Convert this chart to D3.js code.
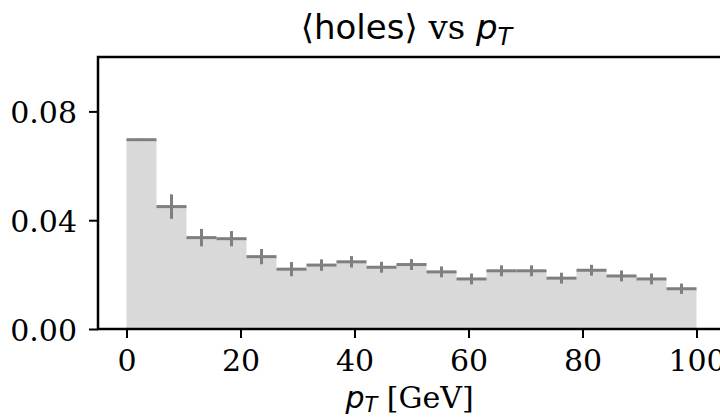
<!DOCTYPE html>
<html>
<head>
<meta charset="utf-8">
<script src="https://cdn.jsdelivr.net/npm/d3@7"></script>
<style>
  html, body { margin: 0; padding: 0; background: #fff; overflow: hidden; }
  svg { display: block; }
</style>
</head>
<body>
<div id="chart"></div>
<script>
// 19 equal bins over 0..100 GeV
const binEdges = d3.range(20).map((i) => (i * 100) / 19);
const holes = [0.0696, 0.0450, 0.0336, 0.0332, 0.0266, 0.0220, 0.0235, 0.0247, 0.0227, 0.0237,
  0.0210, 0.0184, 0.0214, 0.0214, 0.0187, 0.0216, 0.0195, 0.0184, 0.0148];
const holesErr = [0.0004, 0.0045, 0.0032, 0.0028, 0.0028, 0.0026, 0.0021, 0.0021, 0.0020, 0.0020,
  0.0020, 0.0020, 0.0020, 0.0020, 0.0020, 0.0020, 0.0020, 0.0020, 0.0019];
const xTicks = [0, 20, 40, 60, 80, 100];
const yTicks = [0.00, 0.04, 0.08];

const W = 720, H = 418;
const margin = { top: 57, right: -5, bottom: 89, left: 98 };

const svg = d3.select("#chart").append("svg")
  .attr("width", W).attr("height", H).attr("viewBox", [0, 0, W, H]);

const x = d3.scaleLinear().domain([-5, 105]).range([margin.left, W - margin.right]);
const y = d3.scaleLinear().domain([0, 0.1]).range([H - margin.bottom, margin.top]);

const bins = holes.map((v, i) => ({ x0: binEdges[i], x1: binEdges[i + 1], v, e: holesErr[i] }));

// Filled step histogram
const area = d3.area()
  .curve(d3.curveStepAfter)
  .x((d) => x(d[0]))
  .y0(y(0))
  .y1((d) => y(d[1]));
const steps = bins.map((b) => [b.x0, b.v]).concat([[100, holes[holes.length - 1]]]);
svg.append("path").attr("d", area(steps)).attr("fill", "#d9d9d9");

// Error bars
const eb = svg.append("g").attr("stroke", "#7f7f7f").attr("stroke-width", 3);
bins.forEach((b) => {
  const cx = x((b.x0 + b.x1) / 2);
  eb.append("line")
    .attr("x1", x(b.x0)).attr("x2", x(b.x1))
    .attr("y1", y(b.v)).attr("y2", y(b.v));
  eb.append("line")
    .attr("x1", cx).attr("x2", cx)
    .attr("y1", y(b.v - b.e)).attr("y2", y(b.v + b.e));
});

// Axes
const xAxis = svg.append("g")
  .attr("transform", `translate(0,${y(0)})`)
  .call(d3.axisBottom(x).tickValues(xTicks).tickFormat(d3.format("d")).tickSize(9).tickPadding(12));
const yAxis = svg.append("g")
  .attr("transform", `translate(${x(-5)},0)`)
  .call(d3.axisLeft(y).tickValues(yTicks).tickFormat(d3.format(".2f")).tickSize(9).tickPadding(12));

[xAxis, yAxis].forEach((a) => {
  a.select(".domain").remove();
  a.selectAll(".tick line").attr("stroke", "#000").attr("stroke-width", 2);
  a.selectAll("text")
    .attr("fill", "#000")
    .style("font-family", "'DejaVu Serif', serif")
    .style("font-size", "30px");
});
yAxis.selectAll("text").attr("dy", "0.38em");

// Frame
svg.append("rect")
  .attr("x", x(-5)).attr("y", y(0.1))
  .attr("width", x(105) - x(-5)).attr("height", y(0) - y(0.1))
  .attr("fill", "none").attr("stroke", "#000").attr("stroke-width", 2.5);

// Title
const cx = (x(-5) + x(105)) / 2;
const title = svg.append("text")
  .attr("x", cx - 5).attr("y", 39)
  .attr("text-anchor", "middle")
  .style("font-size", "34px").attr("fill", "#000");
title.append("tspan").style("font-family", "'DejaVu Sans', sans-serif").text("⟨holes⟩");
title.append("tspan").style("font-family", "'DejaVu Serif', serif").text(" vs ");
title.append("tspan").style("font-family", "'DejaVu Sans', sans-serif").style("font-style", "italic").text("p");
title.append("tspan").style("font-family", "'DejaVu Sans', sans-serif").style("font-style", "italic")
  .style("font-size", "24px").attr("dy", 6).text("T");

// X label
const xl = svg.append("text")
  .attr("x", cx - 2).attr("y", 408)
  .attr("text-anchor", "middle")
  .style("font-size", "30px").attr("fill", "#000");
xl.append("tspan").style("font-family", "'DejaVu Sans', sans-serif").style("font-style", "italic").text("p");
xl.append("tspan").style("font-family", "'DejaVu Sans', sans-serif").style("font-style", "italic")
  .style("font-size", "21px").attr("dy", 4).text("T");
xl.append("tspan").style("font-family", "'DejaVu Serif', serif").attr("dy", -4).text(" [GeV]");
</script>
</body>
</html>
